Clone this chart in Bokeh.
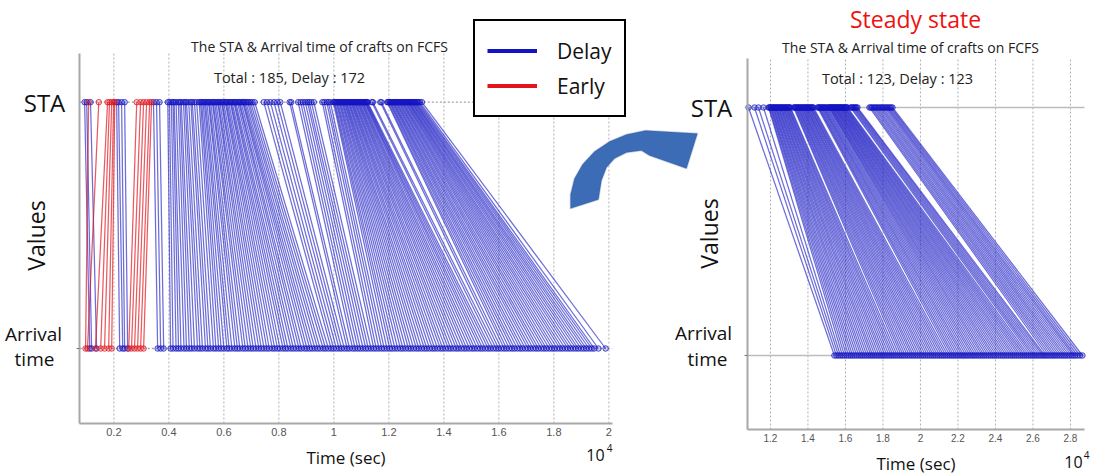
import math
from bokeh.plotting import figure
from bokeh.models import (Range1d, FixedTicker, Label, Legend, LegendItem,
                          PolyAnnotation, LinearAxis)
from bokeh.embed import file_html
from bokeh.resources import INLINE

# ---------------- data (seconds) ----------------
# Left panel: all traffic, FCFS (185 crafts, 172 delayed, 13 early)
left_sta = [
    935, 1010, 1080, 1150, 1450, 1770, 1840, 1920, 1990, 2030,
    2100, 2170, 2280, 2390, 2830, 2970, 3080, 3190, 3300, 3370,
    3440, 3550, 3660,
    3960, 4020, 4090, 4150, 4190, 4260, 4340, 4400, 4450, 4530, 4590, 4640, 4720, 4800, 4850, 4930, 5010, 5100,
    5150, 5190, 5240, 5290, 5330, 5380, 5440, 5470, 5520, 5580, 5610, 5660, 5710, 5770, 5800, 5850, 5910, 5940,
    5990, 6050, 6080, 6120, 6170, 6230, 6260, 6300, 6360, 6390, 6430, 6490, 6540, 6570, 6620, 6680, 6710, 6750,
    6800, 6860, 6910, 6970, 7040, 7120,
    7450, 7570, 7690, 7820, 7940, 8050,
    8390, 8450,
    8700, 8790, 8870, 8960, 9040, 9100, 9180, 9270,
    9580, 9650, 9740, 9800, 9870,
    9980, 10010, 10040, 10080, 10110, 10140, 10180, 10210, 10240, 10280, 10310, 10340, 10380, 10410, 10440,
    10470, 10510, 10540, 10570, 10610, 10640, 10670, 10700, 10740, 10770, 10800, 10840, 10870, 10900, 10930,
    10970, 11000, 11030, 11060, 11100, 11130, 11150, 11180, 11200, 11230,
    11380, 11420,
    11690, 11730,
    11940, 11970, 12010, 12040, 12070, 12110, 12140, 12170, 12200, 12240, 12270, 12300, 12340, 12370, 12400,
    12440, 12470, 12500, 12530, 12570, 12600, 12630, 12670, 12700, 12730, 12760, 12800, 12830, 12860, 12900,
    12930, 12960, 13000, 13040, 13080, 13130, 13200,
]
left_arrival = [
    1120, 1190, 970, 1370, 1040, 1330, 1520, 1660, 1810, 1920,
    2210, 2320, 2390, 2500, 2540, 2640, 2750, 2860, 2970, 3080,
    3590, 3700, 3810,
    4060, 4150, 4260, 4350, 4440, 4550, 4640, 4740, 4830, 4930,
    5040, 5130, 5220, 5330, 5420, 5510, 5620, 5710, 5810, 5900,
    6000, 6110, 6190, 6290, 6400, 6490, 6580, 6690, 6780, 6880,
    6980, 7070, 7170, 7270, 7360, 7460, 7560, 7650, 7760, 7850,
    7950, 8040, 8150, 8240, 8330, 8440, 8530, 8630, 8730, 8820,
    8930, 9020, 9120, 9210, 9310, 9410, 9500, 9610, 9700, 9800,
    9900, 9990, 10090, 10190, 10280, 10380, 10480, 10570, 10680, 10770,
    10870, 10960, 11060, 11160, 11250, 11350, 11450, 11540, 11640, 11740,
    11830, 11930, 12030, 12120, 12220, 12320, 12420, 12510, 12610, 12710,
    12800, 12900, 13000, 13090, 13190, 13290, 13380, 13480, 13580, 13670,
    13770, 13870, 13960, 14060, 14160, 14250, 14350, 14450, 14540, 14640,
    14740, 14830, 14930, 15030, 15120, 15220, 15320, 15410, 15510, 15610,
    15700, 15800, 15900, 15990, 16090, 16190, 16280, 16380, 16480, 16570,
    16670, 16770, 16860, 16960, 17060, 17150, 17250, 17350, 17440, 17540,
    17640, 17730, 17830, 17930, 18020, 18120, 18220, 18310, 18410, 18510,
    18600, 18700, 18800, 18890, 18990, 19090, 19180, 19280, 19380, 19470,
    19620, 19880,
]

# Right panel: steady state (123 crafts, all delayed)
right_sta = [
    10830, 11150, 11360, 11630,
    11900, 11940, 11990, 12030, 12070, 12120, 12160, 12200, 12250, 12290, 12330, 12380, 12420, 12460,
    12510, 12550, 12590, 12640, 12680, 12720, 12770, 12810, 12850, 12900, 12940, 12980, 13030, 13070,
    13240, 13280, 13330, 13370, 13420, 13460, 13500, 13550, 13590, 13640, 13680, 13720, 13770, 13810,
    13860, 13900, 13940, 13990, 14030, 14080, 14120, 14160, 14210, 14250, 14300,
    14510, 14560, 14600, 14650, 14700, 14750, 14800, 14840, 14890, 14940, 14990, 15040,
    15100, 15140, 15170, 15210, 15250, 15280, 15320, 15360, 15400, 15430, 15470, 15510, 15540, 15580,
    15620, 15660, 15690, 15730, 15770, 15800, 15840, 15880, 15920, 15950, 15990, 16030, 16070, 16110,
    16270, 16320, 16380, 16430, 16480, 16530, 16590, 16640,
    17280, 17350, 17420, 17500, 17570, 17640, 17710, 17790, 17860, 17930, 18000, 18080, 18150, 18220,
    18290, 18370, 18440, 18510,
]
right_arrival = [
    15410, 15520, 15630, 15730, 15840, 15950, 16060, 16170, 16280, 16380,
    16490, 16600, 16710, 16820, 16920, 17030, 17140, 17250, 17360, 17460,
    17570, 17680, 17790, 17900, 18000, 18110, 18220, 18330, 18440, 18540,
    18650, 18760, 18870, 18980, 19080, 19190, 19300, 19410, 19520, 19620,
    19730, 19840, 19950, 20060, 20160, 20270, 20380, 20490, 20600, 20700,
    20810, 20920, 21030, 21140, 21240, 21350, 21460, 21570, 21680, 21780,
    21890, 22000, 22110, 22220, 22320, 22430, 22540, 22650, 22760, 22860,
    22970, 23080, 23190, 23300, 23400, 23510, 23620, 23730, 23840, 23940,
    24050, 24160, 24270, 24380, 24480, 24590, 24700, 24810, 24920, 25020,
    25130, 25240, 25350, 25460, 25560, 25670, 25780, 25890, 26000, 26100,
    26210, 26320, 26430, 26540, 26640, 26750, 26860, 26970, 27080, 27180,
    27290, 27400, 27510, 27620, 27720, 27830, 27940, 28050, 28160, 28260,
    28380, 28510, 28640,
]

ROW_STA = 1
ROW_ARRIVAL = 0

left_ticks = [2000, 4000, 6000, 8000, 10000, 12000, 14000, 16000, 18000, 20000]
left_tick_labels = ["0.2", "0.4", "0.6", "0.8", "1", "1.2", "1.4", "1.6", "1.8", "2"]
right_ticks = [12000, 14000, 16000, 18000, 20000, 22000, 24000, 26000, 28000]
right_tick_labels = ["1.2", "1.4", "1.6", "1.8", "2", "2.2", "2.4", "2.6", "2.8"]

legend_labels = ["Delay", "Early"]
title_text = "The STA & Arrival time of crafts on FCFS"
left_total_text = "Total : 185, Delay : 172"
right_total_text = "Total : 123, Delay : 123"

# ---------------- layout geometry (canvas pixels) ----------------
W, H = 1092, 473
L_XPX, L_XDATA = (79.3, 611.7), (760, 20120)
L_YPX = {"sta": 101.7, "arr": 348.0, "bottom": 423.0, "top": 53.0}
R_XPX, R_XDATA = (746.7, 1084.0), (10760, 28750)
R_YPX = {"sta": 107.0, "arr": 355.0, "bottom": 429.0, "top": 58.0}

# ---------------- styles ----------------
BLUE = "#1414c2"
RED = "#e3141c"
FONT = "Open Sans"
GRID = "#b0b0b0"
AXIS = "#a8a8a8"


def x_map(px_pair, data_pair):
    k = (data_pair[1] - data_pair[0]) / (px_pair[1] - px_pair[0])
    return lambda px: data_pair[0] + (px - px_pair[0]) * k


def y_map(g):
    k = (ROW_STA - ROW_ARRIVAL) / (g["sta"] - g["arr"])
    return lambda py: ROW_ARRIVAL + (py - g["arr"]) * k


lx, ly = x_map(L_XPX, L_XDATA), y_map(L_YPX)
rx, ry = x_map(R_XPX, R_XDATA), y_map(R_YPX)

p = figure(width=W, height=H, x_range=Range1d(lx(0), lx(W)), y_range=Range1d(ly(H), ly(0)),
           output_backend="svg", toolbar_location=None, x_axis_location=None, y_axis_location=None,
           min_border=0, min_border_left=0, min_border_right=0, min_border_top=0, min_border_bottom=0)
p.extra_x_ranges = {"rx": Range1d(rx(0), rx(W))}
p.extra_y_ranges = {"ry": Range1d(ry(H), ry(0))}
p.outline_line_color = None
p.grid.visible = False


def panel(xr, yr, xdata, ymap, g, ticks, labels, tick_font, tick_size, row_color, row_dash, sta, arr):
    kw = {} if xr is None else dict(x_range_name=xr, y_range_name=yr)
    y_bot, y_top = ymap(g["bottom"]), ymap(g["top"])
    p.segment(x0=ticks, x1=ticks, y0=[y_bot] * len(ticks), y1=[y_top] * len(ticks),
              line_color=GRID, line_dash="2 2", line_width=1, **kw)
    p.segment(x0=[xdata[0]] * 2, x1=[xdata[1]] * 2, y0=[ROW_STA, ROW_ARRIVAL], y1=[ROW_STA, ROW_ARRIVAL],
              line_color=row_color, line_dash=row_dash, line_width=1.3, **kw)
    xa = LinearAxis(fixed_location=y_bot, bounds=tuple(xdata), ticker=FixedTicker(ticks=ticks),
                    major_label_overrides={t: l for t, l in zip(ticks, labels)},
                    major_label_text_font=tick_font, major_label_text_font_size=tick_size,
                    major_label_text_color="#555555", major_label_standoff=4,
                    major_tick_out=0, major_tick_in=0, minor_tick_out=0, minor_tick_in=0,
                    axis_line_color=AXIS, axis_line_width=2,
                    axis_label="Time (sec)", axis_label_text_font=FONT,
                    axis_label_text_font_size="17px", axis_label_text_font_style="normal",
                    axis_label_text_color="#111111", axis_label_standoff=7, **kw)
    p.add_layout(xa, "below")
    ya = LinearAxis(fixed_location=xdata[0], bounds=(y_bot, y_top), ticker=FixedTicker(ticks=[ROW_ARRIVAL]),
                    major_label_overrides={ROW_ARRIVAL: " "}, major_label_text_font_size="1px",
                    major_tick_out=3, major_tick_in=0, minor_tick_out=0, minor_tick_in=0,
                    major_tick_line_color="#777777", axis_line_color=AXIS, axis_line_width=2, **kw)
    p.add_layout(ya, "left")
    for early, col, la in ((False, BLUE, 0.62), (True, RED, 0.7)):
        xs, ys = [], []
        for s, a in zip(sta, arr):
            if (a < s) == early:
                xs.append([s, a])
                ys.append([ROW_STA, ROW_ARRIVAL])
        if xs:
            p.multi_line(xs=xs, ys=ys, line_color=col, line_alpha=la, line_width=1.25, **kw)
    for early, col in ((False, BLUE), (True, RED)):
        px, py = [], []
        for s, a in zip(sta, arr):
            if (a < s) == early:
                px += [s, a]
                py += [ROW_STA, ROW_ARRIVAL]
        if px:
            p.scatter(x=px, y=py, marker="circle", size=5.5, line_color=col, line_alpha=0.75,
                      fill_color=col, fill_alpha=0.2, line_width=1, **kw)


panel(None, None, L_XDATA, ly, L_YPX, left_ticks, left_tick_labels, "Liberation Sans", "11px",
      "#a0a0a0", "2 2", left_sta, left_arrival)
panel("rx", "ry", R_XDATA, ry, R_YPX, right_ticks, right_tick_labels, "Liberation Sans", "10px",
      "#bdbdbd", "solid", right_sta, right_arrival)


def lab(text, x, y, size, color="#111111", angle=0.0):
    p.add_layout(Label(x=x, y=H - y, x_units="screen", y_units="screen", text=text,
                       text_font=FONT, text_font_size=size, text_color=color,
                       text_align="center", text_baseline="middle", angle=angle))


lab(title_text, 319, 46, "14px", "#222222")
lab(left_total_text, 289, 77, "14.5px", "#222222")
lab("STA", 44, 102, "24px")
lab("Values", 35, 235, "23px", angle=math.pi / 2)
lab("Arrival", 33, 333, "19px")
lab("time", 34, 358, "19px")
lab("10", 595, 454, "16px")
lab("4", 609, 447, "10px")

lab("Steady state", 915, 18, "23px", "#ee1111")
lab(title_text, 910, 47, "14px", "#222222")
lab(right_total_text, 897, 78, "14.5px", "#222222")
lab("STA", 711, 107, "24px")
lab("Values", 708, 233, "23px", angle=math.pi / 2)
lab("Arrival", 703, 332, "19px")
lab("time", 707, 358, "19px")
lab("10", 1073, 461, "16px")
lab("4", 1086, 454, "10px")

# legend (key lines only: NaN coordinates so nothing is drawn in the plot area)
nan = float("nan")
leg_delay = p.line(x=[nan], y=[nan], line_color=BLUE, line_width=4)
leg_early = p.line(x=[nan], y=[nan], line_color=RED, line_width=4)
legend = Legend(items=[LegendItem(label=legend_labels[0], renderers=[leg_delay]),
                       LegendItem(label=legend_labels[1], renderers=[leg_early])],
                location=(473, H - 117), border_line_color="#000000", border_line_alpha=1.0,
                border_line_width=2, background_fill_color="white", background_fill_alpha=1.0,
                label_text_font=FONT, label_text_font_size="21px", label_text_color="#111111",
                glyph_width=50, glyph_height=35, label_height=35, spacing=0,
                padding=12, label_standoff=20, margin=0)
p.add_layout(legend)

# curved arrow between the panels
arrow_px = [(570, 208), (570, 194), (574, 178), (582, 164), (594, 151), (609, 141), (626, 134),
            (645, 130), (697, 133), (686, 168), (649, 155), (641, 150), (626, 152), (614, 158),
            (606, 167), (601, 180), (598, 199)]
p.add_layout(PolyAnnotation(xs=[x for x, _ in arrow_px], ys=[H - y for _, y in arrow_px],
                            xs_units="screen", ys_units="screen",
                            fill_color="#3d6cb6", fill_alpha=1.0, line_color="#2f5a98",
                            line_width=1.5, level="overlay"))

open("out.html", "w").write(file_html(p, INLINE))
